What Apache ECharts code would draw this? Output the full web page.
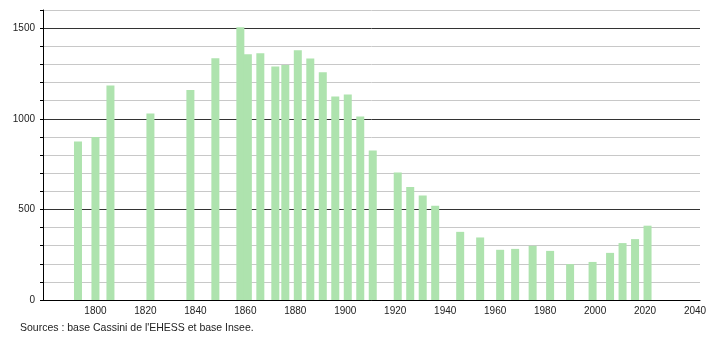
<!DOCTYPE html>
<html>
<head>
<meta charset="utf-8">
<script src="https://cdn.jsdelivr.net/npm/echarts@6/dist/echarts.min.js"></script>
<style>
html,body{margin:0;padding:0;background:#fff;}
#c{width:710px;height:340px;}
</style>
</head>
<body>
<div id="c"></div>
<script>
const years = [1793, 1800, 1806, 1822, 1838, 1848, 1858, 1861, 1866, 1872, 1876, 1881, 1886, 1891, 1896, 1901, 1906, 1911, 1921, 1926, 1931, 1936, 1946, 1954, 1962, 1968, 1975, 1982, 1990, 1999, 2006, 2011, 2016, 2021];
const population = [874, 900, 1184, 1029, 1158, 1334, 1505, 1356, 1361, 1288, 1297, 1378, 1332, 1256, 1123, 1134, 1013, 825, 704, 624, 576, 520, 376, 345, 277, 282, 299, 271, 198, 210, 260, 314, 336, 410];
const yTickLabels = [0, 500, 1000, 1500];
const xTickLabels = [1800, 1820, 1840, 1860, 1880, 1900, 1920, 1940, 1960, 1980, 2000, 2020, 2040];
const sourceText = "Sources : base Cassini de l'EHESS et base Insee.";

const gridColors = [];
for (let v = 0; v <= 1600; v += 100) {
  gridColors.push(yTickLabels.indexOf(v) >= 0 ? '#333333' : '#c8c8c8');
}

const chart = echarts.init(document.getElementById('c'), null, {renderer: 'canvas'});
chart.setOption({
  animation: false,
  backgroundColor: '#ffffff',
  grid: {left: 43, right: 10, top: 10, bottom: 40, containLabel: false},
  xAxis: {
    type: 'value',
    min: 1779,
    max: 2042,
    interval: 1,
    axisLine: {show: true, lineStyle: {color: '#000', width: 1}},
    axisTick: {show: false},
    splitLine: {show: false},
    axisLabel: {
      show: true,
      margin: 6,
      color: '#222',
      fontSize: 10,
      fontFamily: 'Liberation Sans, Arial, sans-serif',
      formatter: function (v) { return xTickLabels.indexOf(v) >= 0 ? String(v) : ''; }
    }
  },
  yAxis: {
    type: 'value',
    min: 0,
    max: 1600,
    interval: 100,
    axisLine: {show: true, lineStyle: {color: '#000', width: 1}},
    axisTick: {show: true, length: 3, lineStyle: {color: '#000'}},
    splitLine: {show: true, lineStyle: {color: gridColors, width: 1}},
    axisLabel: {
      show: true,
      margin: 8,
      color: '#222',
      fontSize: 10,
      padding: [3, 0, 0, 0],
      fontFamily: 'Liberation Sans, Arial, sans-serif',
      formatter: function (v) { return yTickLabels.indexOf(v) >= 0 ? String(v) : ''; }
    }
  },
  series: [{
    type: 'bar',
    data: years.map((y, i) => [y, population[i]]),
    barWidth: 8,
    itemStyle: {color: '#aee3ae'},
    z: 2
  }],
  graphic: [{
    type: 'text',
    left: 20,
    top: 323,
    style: {
      text: sourceText,
      fill: '#222',
      fontSize: 10.5,
      fontFamily: 'Liberation Sans, Arial, sans-serif'
    }
  }]
});
</script>
</body>
</html>
